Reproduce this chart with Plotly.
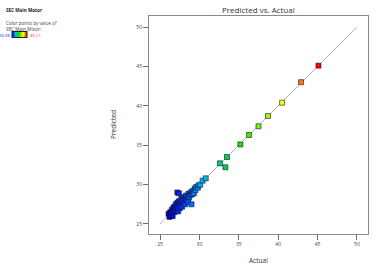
import plotly.graph_objects as go

# ---- data ----
actual = [26.08, 26.2, 26.3, 26.4, 26.5, 26.5, 26.6, 26.7, 26.7, 26.8, 26.9, 26.9,
          27.0, 27.0, 27.1, 27.2, 27.2, 27.3, 27.3, 27.4, 27.4, 27.5, 27.5, 27.6,
          27.7, 27.7, 27.8, 27.9, 28.0, 28.0, 28.1, 28.2, 28.3, 28.3, 28.4, 28.5,
          28.6, 28.6, 28.7, 28.8, 28.9, 29.0, 29.0, 29.1, 29.2, 29.3, 29.4, 29.5,
          29.6, 29.8, 29.9, 30.1, 30.4, 30.8,
          32.6, 33.3, 33.5, 35.2, 36.3, 37.5, 38.7, 40.5, 42.9, 45.11]
predicted = [26.3, 25.9, 26.5, 26.1, 26.8, 26.3, 26.0, 26.8, 27.1, 26.5, 27.2, 26.9,
             27.5, 26.7, 27.0, 27.7, 29.0, 26.6, 27.3, 28.9, 27.9, 27.4, 27.0, 27.8,
             28.2, 27.6, 27.2, 28.0, 28.4, 27.7, 28.1, 27.5, 28.3, 28.6, 28.0, 28.5,
             27.8, 28.8, 28.4, 28.9, 28.7, 27.5, 29.1, 28.8, 29.2, 28.9, 29.5, 29.3,
             29.7, 29.6, 29.9, 30.0, 30.5, 30.8,
             32.7, 32.2, 33.5, 35.1, 36.3, 37.4, 38.7, 40.4, 43.0, 45.1]
line_x = [25, 50]
line_y = [25, 50]
tick_vals = [25, 30, 35, 40, 45, 50]
color_min = 26.08
color_max = 45.11

# ---- layout geometry (pixels) ----
W, H = 387, 272
L, R, T, B = 149, 19, 16, 38
PW, PH = W - L - R, H - T - B

def px(x):
    return (x - L) / PW

def py(y):
    return (H - B - y) / PH

FONT = "Open Sans"
cscale = [[0.0, "#0000d8"], [0.1, "#0038ff"], [0.22, "#00b4ff"], [0.45, "#00e000"],
          [0.76, "#ffff00"], [0.88, "#ff8000"], [1.0, "#ff0000"]]

fig = go.Figure()
fig.add_trace(go.Scatter(x=line_x, y=line_y, mode="lines",
                         line=dict(color="#b4b4b4", width=1),
                         hoverinfo="skip", showlegend=False))
fig.add_trace(go.Scatter(
    x=actual, y=predicted, mode="markers", showlegend=False,
    marker=dict(symbol="square", size=5, color=actual,
                cmin=color_min, cmax=color_max, colorscale=cscale,
                line=dict(color="#101030", width=0.6),
                showscale=True,
                colorbar=dict(orientation="h", x=px(12), xanchor="left",
                              y=py(35), yanchor="middle",
                              lenmode="pixels", len=15, thickness=6,
                              xpad=0, ypad=0, outlinewidth=1,
                              outlinecolor="#202020",
                              showticklabels=False, ticks=""))))

axis_common = dict(showgrid=False, zeroline=False, showline=True, mirror=True,
                   linecolor="#8a8a8a", linewidth=1, ticks="outside",
                   ticklen=5, tickcolor="#6a6a6a", tickwidth=1,
                   tickvals=tick_vals,
                   tickfont=dict(family=FONT, size=5, color="#444444"))
fig.update_xaxes(range=[23.6, 51.4], **axis_common)
fig.update_yaxes(range=[23.73, 51.4], **axis_common)

ann = [
    dict(text="Predicted vs. Actual", x=0.5, y=py(10), font=dict(size=8, color="#333333")),
    dict(text="Actual", x=0.5, y=py(260), font=dict(size=6.5, color="#333333")),
    dict(text="Predicted", x=px(113), y=0.5, textangle=-90, font=dict(size=6.5, color="#333333")),
    dict(text="<b>SEC Main Motor</b>", x=px(4), y=py(10), xanchor="left", font=dict(size=4.6, color="#222222")),
    dict(text="Color points by value of", x=px(4), y=py(23), xanchor="left", font=dict(size=4.6, color="#444444")),
    dict(text="SEC Main Motor:", x=px(4), y=py(29), xanchor="left", font=dict(size=4.6, color="#444444")),
    dict(text="26.08", x=px(11.5), y=py(35), xanchor="right", font=dict(size=4.3, color="#2020ff")),
    dict(text="45.11", x=px(28.5), y=py(35), xanchor="left", font=dict(size=4.3, color="#ff2020")),
]
for a in ann:
    a.setdefault("xanchor", "center")
    fig.add_annotation(xref="paper", yref="paper", showarrow=False,
                       yanchor="middle", font_family=FONT, **{k: v for k, v in a.items()})

fig.update_layout(width=W, height=H, margin=dict(l=L, r=R, t=T, b=B, pad=0),
                  paper_bgcolor="white", plot_bgcolor="white",
                  font=dict(family=FONT))
fig.write_html("out.html")
